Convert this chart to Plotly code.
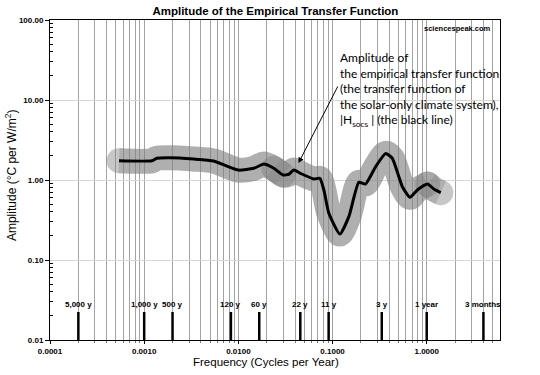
import math
import plotly.graph_objects as go

# ---------------- data ----------------
freq = [0.00054, 0.00121, 0.00136, 0.00189, 0.00335, 0.00547, 0.0100, 0.0146,
        0.0186, 0.0238, 0.0299, 0.0343, 0.0388, 0.0457, 0.0633, 0.0733, 0.0809,
        0.0914, 0.1197, 0.149, 0.19, 0.224, 0.287, 0.366, 0.431, 0.551, 0.665,
        0.796, 1.02, 1.2, 1.41]
amp = [1.74, 1.74, 1.87, 1.90, 1.83, 1.73, 1.33, 1.40,
       1.58, 1.40, 1.155, 1.18, 1.33, 1.21, 1.03, 1.05, 0.75,
       0.383, 0.211, 0.348, 0.935, 0.89, 1.47, 2.15, 1.87, 0.825, 0.607,
       0.75, 0.89, 0.764, 0.695]

periods_yr = [5000, 1000, 500, 120, 60, 22, 11, 3, 1, 0.25]
period_labels = ["5,000 y", "1,000 y", "500 y", "120 y", "60 y", "22 y", "11 y",
                 "3 y", "1 year", "3 months"]

x_tick_vals = [0.0001, 0.001, 0.01, 0.1, 1.0]
x_tick_text = ["0.0001", "0.0010", "0.0100", "0.1000", "1.0000"]
y_tick_vals = [0.01, 0.1, 1, 10, 100]
y_tick_text = ["0.01", "0.10", "1.00", "10.00", "100.00"]

# ---------------- style constants ----------------
BAND_SEGMENTS = [(0, 10), (9, 28), (28, 30)]   # index ranges of overlapping grey bands
BAND_W = 25
MARK_BOTTOM = 0.01
MARK_TOP = 0.0224
LABEL_Y = 0.0274
X_MAX = 6.0

fig = go.Figure()

# grey highlight bands
for a, b in BAND_SEGMENTS:
    xs = freq[a:b + 1]
    ys = amp[a:b + 1]
    sizes = [BAND_W] + [0] * (len(xs) - 2) + [BAND_W]
    fig.add_trace(go.Scatter(
        x=xs, y=ys, mode="lines+markers",
        line=dict(color="#7f7f7f", width=BAND_W, shape="spline", smoothing=0.8),
        marker=dict(size=sizes, color="#7f7f7f", line=dict(width=0)),
        opacity=0.62, hoverinfo="skip", showlegend=False))

# black amplitude line
fig.add_trace(go.Scatter(
    x=freq, y=amp, mode="lines",
    line=dict(color="black", width=3, shape="spline", smoothing=0.5),
    showlegend=False))

# period marker bars
mx, my = [], []
for p in periods_yr:
    f = 1.0 / p
    mx += [f, f, None]
    my += [MARK_BOTTOM, MARK_TOP, None]
fig.add_trace(go.Scatter(x=mx, y=my, mode="lines",
                         line=dict(color="black", width=2.5),
                         hoverinfo="skip", showlegend=False))

annotations = []
for p, lab in zip(periods_yr, period_labels):
    annotations.append(dict(
        x=math.log10(1.0 / p), y=math.log10(LABEL_Y), xref="x", yref="y",
        text=lab, showarrow=False,
        font=dict(family="Liberation Sans", size=8, color="black", weight="bold")))

# explanatory text + arrow
annotations.append(dict(
    xref="paper", yref="paper", x=0.64, y=0.912, xanchor="left", yanchor="top",
    align="left", showarrow=False,
    text=("Amplitude of<br>the empirical transfer function<br>(the transfer function of<br>"
          "the solar-only climate system),<br>|H<sub>socs</sub> | (the black line)"),
    font=dict(family="Lato", size=12, color="black")))
annotations.append(dict(
    x=math.log10(0.0435), y=math.log10(1.63), xref="x", yref="y",
    ax=40, ay=-78, axref="pixel", ayref="pixel", text="",
    showarrow=True, arrowhead=2, arrowsize=1.1, arrowwidth=1, arrowcolor="black"))

# watermark
annotations.append(dict(
    xref="paper", yref="paper", x=0.985, y=0.975, xanchor="right", yanchor="middle",
    text="sciencespeak.com", showarrow=False,
    font=dict(family="Liberation Sans", size=7.5, color="black", weight="bold")))

# axis titles
annotations.append(dict(
    xref="paper", yref="paper", x=0.48, y=-0.045, xanchor="center", yanchor="top",
    text="Frequency (Cycles per Year)", showarrow=False,
    font=dict(family="Liberation Sans", size=11.5, color="black")))
annotations.append(dict(
    xref="paper", yref="paper", x=-0.087, y=0.515, xanchor="center", yanchor="middle",
    text="Amplitude (°C per W/m<sup>2</sup>)", textangle=-90, showarrow=False,
    font=dict(family="Liberation Sans", size=12, color="black")))

minor_x = [k * 10.0 ** e for e in range(-4, 1) for k in range(2, 10) if k * 10.0 ** e < X_MAX]
minor_y = [k * 10.0 ** e for e in range(-2, 2) for k in range(2, 10)]

fig.update_layout(
    width=540, height=375,
    margin=dict(l=50, r=40, t=20, b=35),
    paper_bgcolor="white", plot_bgcolor="white",
    title=dict(text="<b>Amplitude of the Empirical Transfer Function</b>",
               x=0.51, xanchor="center", y=0.972, yanchor="middle",
               font=dict(family="Liberation Sans", size=11.5, color="black")),
    annotations=annotations,
    xaxis=dict(type="log", range=[-4, math.log10(X_MAX)],
               tickvals=x_tick_vals, ticktext=x_tick_text,
               tickfont=dict(family="Liberation Sans", size=8, color="black", weight="bold"),
               showgrid=True, gridcolor="#a3a3a3", gridwidth=1,
               showline=True, linecolor="black", linewidth=1, mirror=True,
               ticks="outside", ticklen=3, tickcolor="black",
               minor=dict(tickvals=minor_x, showgrid=True, gridcolor="#a3a3a3",
                          gridwidth=1, ticks="outside", ticklen=2, tickcolor="#777"),
               zeroline=False),
    yaxis=dict(type="log", range=[-2, 2],
               tickvals=y_tick_vals, ticktext=y_tick_text,
               tickfont=dict(family="Liberation Sans", size=8, color="black", weight="bold"),
               showgrid=True, gridcolor="#d6d6d6", gridwidth=1,
               showline=True, linecolor="black", linewidth=1, mirror=True,
               ticks="outside", ticklen=4, tickcolor="black",
               minor=dict(tickvals=minor_y, showgrid=False, ticks="inside",
                          ticklen=3, tickcolor="black"),
               zeroline=False),
)

fig.write_html("out.html",
               config={"displayModeBar": False},
               post_script="document.body.style.margin='0';document.body.style.overflow='hidden';")
